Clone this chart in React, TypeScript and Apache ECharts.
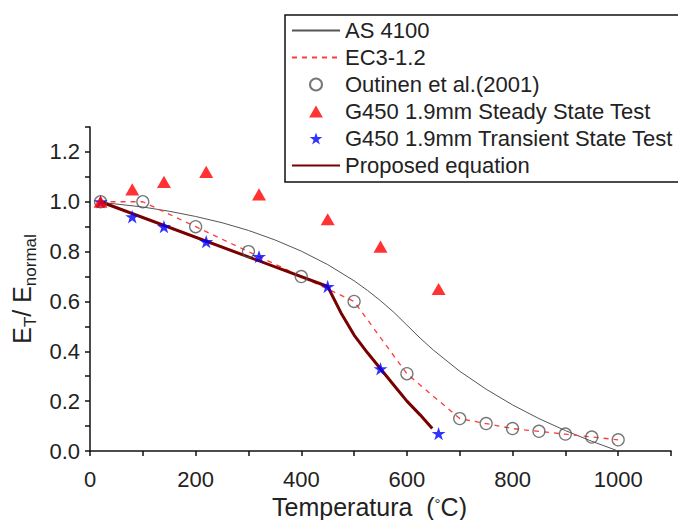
import React, { useEffect, useRef } from "react";
import * as echarts from "echarts";

// Test temperatures (°C) for the G450 1.9mm tests
const testTemps = [20, 80, 140, 220, 320, 450, 550, 660];
const steadyState = [1.0, 1.05, 1.08, 1.12, 1.03, 0.93, 0.82, 0.65];
const transientState = [1.0, 0.94, 0.9, 0.84, 0.78, 0.66, 0.33, 0.07];

// Outinen et al. (2001)
const outinenTemps = [20, 100, 200, 300, 400, 500, 600, 700, 750, 800, 850, 900, 950, 1000];
const outinenValues = [1.0, 1.0, 0.9, 0.8, 0.7, 0.6, 0.31, 0.13, 0.11, 0.09, 0.079, 0.068, 0.056, 0.045];

// EC3-1.2
const ec3Temps = [20, 100, 200, 300, 400, 500, 600, 700, 800, 900, 1000];
const ec3Values = [1.0, 1.0, 0.9, 0.8, 0.7, 0.6, 0.31, 0.13, 0.09, 0.0675, 0.045];

// AS 4100
const asTemps = [20, 100, 150, 200, 250, 300, 350, 400, 450, 500, 525, 550, 575, 600, 625, 650, 700, 750, 800, 850, 900, 950, 1000];
const asValues = [0.998, 0.979, 0.962, 0.941, 0.916, 0.885, 0.847, 0.802, 0.748, 0.683, 0.645, 0.603, 0.557, 0.505, 0.453, 0.405, 0.32, 0.248, 0.185, 0.13, 0.082, 0.039, 0.0];

// Proposed equation
const propTemps = [20, 450, 475, 500, 525, 550, 575, 600, 625, 648];
const propValues = [1.0, 0.66, 0.555, 0.465, 0.395, 0.33, 0.265, 0.2, 0.145, 0.09];

const legendNames = [
  "AS 4100",
  "EC3-1.2",
  "Outinen et al.(2001)",
  "G450 1.9mm Steady State Test",
  "G450 1.9mm Transient State Test",
  "Proposed equation",
];
const lineSeriesNames = ["AS 4100", "EC3-1.2", "Proposed equation"];

const STAR = "path://M50,0 L61.2,34.5 L97.6,34.5 L68.2,55.9 L79.4,90.5 L50,69.1 L20.6,90.5 L31.8,55.9 L2.4,34.5 L38.8,34.5 Z";
const TRIANGLE = "path://M0,87 L50,0 L100,87 Z";

const zip = (xs: number[], ys: number[]) => xs.map((x, i) => [x, ys[i]]);

export default function App() {
  const ref = useRef<HTMLDivElement>(null);
  useEffect(() => {
    if (!ref.current) return;
    const chart = echarts.init(ref.current, undefined, { renderer: "svg" });
    const font = "Liberation Sans, Arial, sans-serif";
    chart.setOption({
      animation: false,
      textStyle: { fontFamily: font },
      grid: { left: 90, right: 7, top: 127, bottom: 69, containLabel: false, outerBoundsMode: "none" },
      xAxis: {
        type: "value",
        min: 0,
        max: 1100,
        interval: 100,
        name: "{a|Temperatura  (}{d|°}{a|C)}",
        nameLocation: "middle",
        nameGap: 42,
        nameTextStyle: {
          fontFamily: font,
          padding: [0, 22, 0, 0],
          rich: {
            a: { fontSize: 25, color: "#222", fontFamily: font, verticalAlign: "top", lineHeight: 25 },
            d: { fontSize: 15, color: "#222", fontFamily: font, verticalAlign: "top", lineHeight: 15, padding: [1, 0, 0, 0] },
          },
        },
        axisLine: { show: true, lineStyle: { color: "#111", width: 1.5 } },
        axisTick: { show: true, inside: false, length: 5, lineStyle: { color: "#111", width: 1.5 } },
        axisLabel: {
          fontSize: 22,
          color: "#222",
          margin: 17,
          formatter: (v: number) => (Math.round(v / 100) % 2 === 0 ? String(Math.round(v)) : ""),
        },
        splitLine: { show: false },
      },
      yAxis: {
        type: "value",
        min: 0,
        max: 1.3,
        interval: 0.1,
        name: "{m|E}{s|T}{m|/ E}{s|normal}",
        nameLocation: "middle",
        nameGap: 54,
        nameTextStyle: {
          fontFamily: font,
          rich: {
            m: { fontSize: 25, color: "#222", fontFamily: font, verticalAlign: "top", lineHeight: 26 },
            s: { fontSize: 17, color: "#222", fontFamily: font, verticalAlign: "top", lineHeight: 17, padding: [12, 0, 0, 0] },
          },
        },
        axisLine: { show: true, lineStyle: { color: "#111", width: 1.5 } },
        axisTick: { show: true, inside: false, length: 5, lineStyle: { color: "#111", width: 1.5 } },
        axisLabel: {
          fontSize: 22,
          color: "#222",
          margin: 10,
          formatter: (v: number) => (Math.round(v * 10) % 2 === 0 ? v.toFixed(1) : ""),
        },
        splitLine: { show: false },
      },
      legend: {
        orient: "vertical",
        left: 291,
        top: 17,
        padding: 0,
        itemGap: 0,
        itemWidth: 48,
        itemHeight: 12,
        data: legendNames.map((n) =>
          lineSeriesNames.includes(n) ? { name: n, itemStyle: { opacity: 0 } } : { name: n }
        ),
        selectedMode: false,
        textStyle: { fontSize: 22, color: "#222", fontFamily: font, lineHeight: 27 },
      },
      graphic: [
        {
          type: "rect",
          z: 3,
          shape: { x: 285, y: 15, width: 420, height: 167 },
          style: { fill: "#fff", stroke: "#111", lineWidth: 1.5 },
        },
      ],
      series: [
        {
          name: "AS 4100",
          type: "line",
          data: zip(asTemps, asValues),
          symbol: "none",
          lineStyle: { color: "#555", width: 1 },
          itemStyle: { color: "#555" },
          z: 2,
        },
        {
          name: "EC3-1.2",
          type: "line",
          data: zip(ec3Temps, ec3Values),
          symbol: "none",
          lineStyle: { color: "#ff3b3b", width: 1.3, type: [5, 5] },
          itemStyle: { color: "#ff3b3b" },
          z: 2,
        },
        {
          name: "Outinen et al.(2001)",
          type: "scatter",
          data: zip(outinenTemps, outinenValues),
          symbol: "circle",
          symbolSize: 12,
          symbolKeepAspect: true,
          itemStyle: { color: "rgba(255,255,255,0)", borderColor: "#555", borderWidth: 1.3 },
          z: 2,
        },
        {
          name: "G450 1.9mm Steady State Test",
          type: "scatter",
          data: zip(testTemps, steadyState),
          symbol: TRIANGLE,
          symbolSize: 14,
          symbolKeepAspect: true,
          itemStyle: { color: "#ff0000" },
          z: 4,
        },
        {
          name: "G450 1.9mm Transient State Test",
          type: "scatter",
          data: zip(testTemps, transientState),
          symbol: STAR,
          symbolSize: 14,
          symbolKeepAspect: true,
          itemStyle: { color: "#0000ff" },
          z: 3,
        },
        {
          name: "Proposed equation",
          type: "line",
          data: zip(propTemps, propValues),
          symbol: "none",
          lineStyle: { color: "#7a0000", width: 3 },
          itemStyle: { color: "#7a0000" },
          z: 2,
        },
      ],
    });
    return () => chart.dispose();
  }, []);
  return (
    <div
      ref={ref}
      style={{ position: "fixed", left: 0, top: 0, width: 678, height: 520, background: "#fff" }}
    />
  );
}
